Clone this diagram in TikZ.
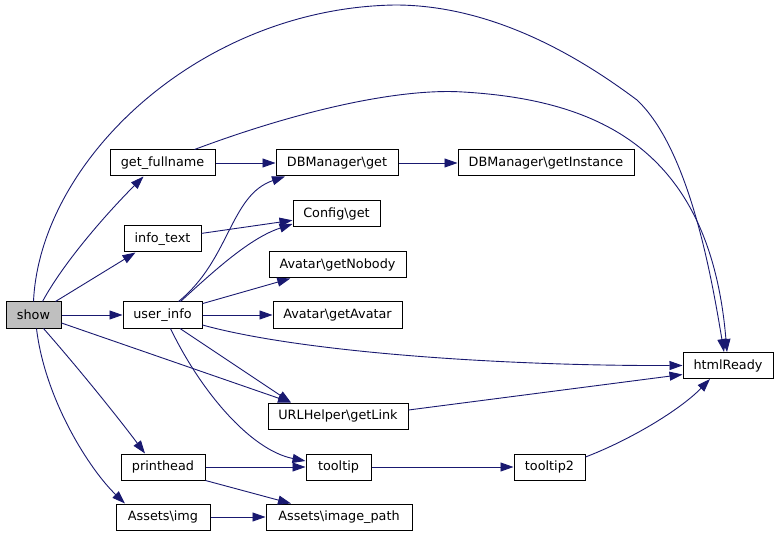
\documentclass[tikz,border=0pt]{standalone}
\usepackage{fontspec}
\setmainfont{DejaVu Sans}
\usepackage{tikz}
\usetikzlibrary{arrows.meta}
\definecolor{edgeblue}{HTML}{191970}
\definecolor{rootgray}{HTML}{BFBFBF}

\begin{document}
\begin{tikzpicture}[x=1pt, y=-1pt,
        fn/.style={draw=black, line width=1pt, inner sep=0pt, minimum height=26pt,
            font=\fontsize{12.8}{15}\selectfont},
        call/.style={edgeblue, line width=0.9pt, -{Triangle[length=13pt, width=9pt]}}]
        \useasboundingbox (0,0) rectangle (779,537);

        \node[fn, fill=rootgray, minimum width=55pt] (show) at (33.5,315) {show};
        \node[fn, minimum width=105pt] (get_fullname) at (162.5,163) {get\_fullname};
        \node[fn, minimum width=77pt] (info_text) at (162.5,239) {info\_text};
        \node[fn, minimum width=79pt] (user_info) at (162.5,315) {user\_info};
        \node[fn, minimum width=84pt] (printhead) at (163,467) {printhead};
        \node[fn, minimum width=94pt] (assets_img) at (163,517) {Assets\textbackslash img};
        \node[fn, minimum width=122pt] (db_get) at (337,163) {DBManager\textbackslash get};
        \node[fn, minimum width=176pt] (db_instance) at (546,163) {DBManager\textbackslash getInstance};
        \node[fn, minimum width=87pt] (config_get) at (336.5,214) {Config\textbackslash get};
        \node[fn, minimum width=137pt] (avatar_nobody) at (337.5,265) {Avatar\textbackslash getNobody};
        \node[fn, minimum width=129pt] (avatar_get) at (337.5,315) {Avatar\textbackslash getAvatar};
        \node[fn, minimum width=140pt] (url_link) at (338,416) {URLHelper\textbackslash getLink};
        \node[fn, minimum width=65pt] (tooltip) at (338.5,467) {tooltip};
        \node[fn, minimum width=146pt] (image_path) at (339,517) {Assets\textbackslash image\_path};
        \node[fn, minimum width=71pt] (tooltip2) at (549.5,467) {tooltip2};
        \node[fn, minimum width=90pt] (html_ready) at (728,365.5) {htmlReady};

        \draw[call] (show.north) .. controls (40,160) and (200,8) .. (395,5)
            .. controls (500,5) and (590,65) .. (637,100)
            .. controls (690,150) and (712,280) .. ([xshift=-4pt]html_ready.north);
        \draw[call] ([xshift=9pt]show.north) .. controls (65,260) and (110,210) .. ([xshift=-19pt]get_fullname.south);
        \draw[call] ([xshift=22pt]show.north) -- ([xshift=-27pt]info_text.south);
        \draw[call] (show) -- (user_info);
        \draw[call] ([yshift=-8pt]show.east) -- ([xshift=-47pt]url_link.north);
        \draw[call] ([xshift=10pt]show.south) .. controls (80,370) and (120,420) .. ([xshift=-18pt]printhead.north);
        \draw[call] ([xshift=3pt]show.south) .. controls (45,400) and (90,470) .. ([xshift=-38pt]assets_img.north);

        \draw[call] (get_fullname) -- (db_get);
        \draw[call] ([xshift=32pt]get_fullname.north) .. controls (300,110) and (400,88) .. (463,92)
            .. controls (600,100) and (710,150) .. ([xshift=-1pt]html_ready.north);
        \draw[call] (db_get) -- (db_instance);
        \draw[call] (info_text) -- (config_get);

        \draw[call] ([xshift=16pt]user_info.north) .. controls (230,260) and (230,195) .. ([xshift=-52pt]db_get.south);
        \draw[call] ([xshift=18pt]user_info.north) .. controls (215,270) and (250,238) .. ([yshift=-10pt]config_get.west);
        \draw[call] (user_info) -- (avatar_nobody);
        \draw[call] (user_info) -- (avatar_get);
        \draw[call] ([yshift=-10pt]user_info.east) .. controls (300,352) and (500,366) .. (html_ready.west);
        \draw[call] ([xshift=17.5pt]user_info.south) -- ([xshift=-47pt]url_link.north);
        \draw[call] ([xshift=8pt]user_info.south) .. controls (200,390) and (250,450) .. ([yshift=6pt]tooltip.west);

        \draw[call] ([yshift=6pt]url_link.east) -- ([yshift=-9pt]html_ready.west);
        \draw[call] (printhead) -- (tooltip);
        \draw[call] (printhead.south east) -- ([xshift=-48pt]image_path.north);
        \draw[call] (tooltip) -- (tooltip2);
        \draw[call] ([yshift=10pt]tooltip2.east) .. controls (630,440) and (680,410) .. ([xshift=-18pt]html_ready.south);
        \draw[call] (assets_img) -- (image_path);
    \end{tikzpicture}
\end{document}
